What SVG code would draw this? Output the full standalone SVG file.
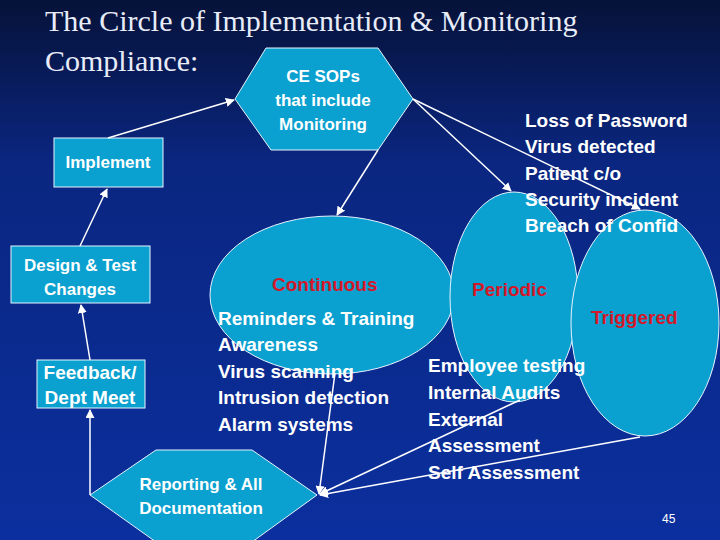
<svg xmlns="http://www.w3.org/2000/svg" width="720" height="540" viewBox="0 0 720 540">
<defs>
<linearGradient id="bg" x1="0" y1="0" x2="0" y2="1"><stop offset="0" stop-color="#061238"/><stop offset="0.3" stop-color="#0a2680"/><stop offset="1" stop-color="#0b2f9e"/></linearGradient>
<marker id="ah" viewBox="0 0 10 10" refX="9" refY="5" markerWidth="6" markerHeight="6" orient="auto"><path d="M0,0L10,5L0,10z" fill="#fff"/></marker>
</defs>
<style>
.n{fill:#0aa0cf;stroke:#e8f4ff;stroke-width:1}
.t{font-family:"Liberation Sans",Arial,sans-serif;font-weight:bold;fill:#fff;font-size:19px}
.s{font-size:17px}
.r{fill:#d4182a}
.c line{stroke:#fff;stroke-width:1.5;marker-end:url(#ah)}
</style>
<rect width="720" height="540" fill="url(#bg)"/>
<text x="45" y="31" font-family="Liberation Serif,serif" font-size="30" fill="#e8ecf8">The Circle of Implementation &amp; Monitoring</text>
<text x="45" y="71" font-family="Liberation Serif,serif" font-size="30" fill="#e8ecf8">Compliance:</text>
<g id="continuous"><ellipse class="n" cx="332" cy="295" rx="122" ry="79"/></g>
<g id="periodic"><ellipse class="n" cx="514" cy="297" rx="64" ry="105"/></g>
<g id="triggered"><ellipse class="n" cx="645" cy="323" rx="74" ry="113"/></g>
<g id="sops"><polygon class="n" points="235,99 266,48 378,48 413,99 378,150 271,150"/>
<text class="t s" text-anchor="middle"><tspan x="323" y="82">CE SOPs</tspan><tspan x="323" y="106">that include</tspan><tspan x="323" y="130">Monitoring</tspan></text></g>
<g id="implement"><rect class="n" x="54" y="138" width="109" height="49"/><text class="t s" x="108" y="168" text-anchor="middle">Implement</text></g>
<g id="design"><rect class="n" x="11" y="246" width="139" height="57"/><text class="t s" text-anchor="middle"><tspan x="80" y="271">Design &amp; Test</tspan><tspan x="80" y="295">Changes</tspan></text></g>
<g id="feedback"><rect class="n" x="37" y="360" width="108" height="48"/><text class="t" text-anchor="middle"><tspan x="90" y="379">Feedback/</tspan><tspan x="90" y="404">Dept Meet</tspan></text></g>
<g id="reporting"><polygon class="n" points="90,495 156,450 252,450 317,495 252,542 156,542"/><text class="t s" text-anchor="middle"><tspan x="201" y="490">Reporting &amp; All</tspan><tspan x="201" y="514">Documentation</tspan></text></g>
<g class="c" id="connectors">
<line x1="108" y1="138" x2="234" y2="100"/>
<line x1="80" y1="246" x2="107" y2="189"/>
<line x1="90" y1="360" x2="81" y2="305"/>
<line x1="90" y1="495" x2="90" y2="410"/>
<line x1="378" y1="150" x2="337" y2="215"/>
<line x1="413" y1="99" x2="511" y2="191"/>
<line x1="413" y1="99" x2="640" y2="209"/>
<line x1="335" y1="373" x2="319" y2="494"/>
<line x1="520" y1="400" x2="320" y2="494"/>
<line x1="640" y1="437" x2="320" y2="495"/>
</g>
<g id="labels">
<text class="t r" x="272" y="291">Continuous</text>
<text class="t r" x="472" y="296">Periodic</text>
<text class="t r" x="591" y="324">Triggered</text>
<text class="t"><tspan x="525" y="127">Loss of Password</tspan><tspan x="525" y="153">Virus detected</tspan><tspan x="525" y="180">Patient c/o</tspan><tspan x="525" y="206">Security incident</tspan><tspan x="525" y="232">Breach of Confid</tspan></text>
<text class="t"><tspan x="218" y="325">Reminders &amp; Training</tspan><tspan x="218" y="351">Awareness</tspan><tspan x="218" y="378">Virus scanning</tspan><tspan x="218" y="404">Intrusion detection</tspan><tspan x="218" y="431">Alarm systems</tspan></text>
<text class="t"><tspan x="428" y="372">Employee testing</tspan><tspan x="428" y="399">Internal Audits</tspan><tspan x="428" y="426">External</tspan><tspan x="428" y="452">Assessment</tspan><tspan x="428" y="479">Self Assessment</tspan></text>
<text x="662" y="523" font-family="Liberation Sans,sans-serif" font-size="12" fill="#fff">45</text>
</g>
</svg>
